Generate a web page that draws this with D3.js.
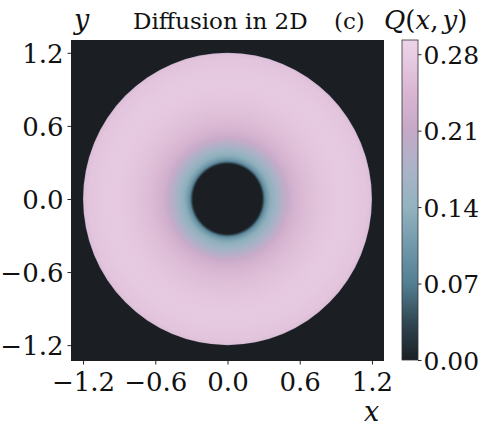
<!DOCTYPE html>
<html>
<head>
<meta charset="utf-8">
<script src="https://cdn.jsdelivr.net/npm/d3@7"></script>
<style>
  body { margin: 0; background: #fff; }
  svg text { font-family: "DejaVu Serif", "Liberation Serif", serif; fill: #111; }
  .math { font-style: italic; }
</style>
</head>
<body>
<div id="vis"></div>
<script>
// Radial profile of Q (r -> Q)
let radii   = [0.00, 0.285, 0.295, 0.31, 0.33, 0.36, 0.40, 0.45, 0.50, 0.55, 0.62, 0.72, 0.85, 0.95, 1.05, 1.15, 1.19, 1.20];
let qValues = [0.00, 0.00,  0.03,  0.08, 0.11, 0.135, 0.155, 0.185, 0.215, 0.235, 0.25, 0.262, 0.272, 0.276, 0.274, 0.268, 0.26, 0.20];

// Tick labels
let xTicks = [-1.2, -0.6, 0.0, 0.6, 1.2];
let yTicks = [-1.2, -0.6, 0.0, 0.6, 1.2];
let cTicks = [0.00, 0.07, 0.14, 0.21, 0.28];

// Colormap stops (value -> colour)
let cmapVals = [0, 0.035, 0.07, 0.105, 0.14, 0.175, 0.21, 0.245, 0.28, 0.293];
let cmapCols = ['#1b1f23', '#304853', '#537f92', '#7199aa', '#93b3bf', '#abb3c9', '#c5a9c7', '#d9b6d2', '#e8cde3', '#ecd4e8'];

let outerR = 1.2;

let svg = d3.select('#vis').append('svg').attr('width', 488).attr('height', 427);

let pLeft = 71, pRight = 384, pTop = 40, pBottom = 361;

let xScale = d3.scaleLinear().domain([-1.3, 1.3]).range([pLeft, pRight]);
let yScale = d3.scaleLinear().domain([-1.33, 1.305]).range([pBottom, pTop]);
let color = d3.scaleLinear().domain(cmapVals).range(cmapCols).clamp(true);

let defs = svg.append('defs');

// Radial gradient built from the profile
let rg = defs.append('radialGradient').attr('id', 'ring')
  .attr('cx', '50%').attr('cy', '50%').attr('r', '50%');
rg.selectAll('stop').data(radii).enter().append('stop')
  .attr('offset', d => d / outerR)
  .attr('stop-color', (d, i) => color(qValues[i]));

// Plot background (Q = 0 outside the domain)
svg.append('rect')
  .attr('x', pLeft).attr('y', pTop)
  .attr('width', pRight - pLeft).attr('height', pBottom - pTop)
  .attr('fill', color(0));

svg.append('ellipse')
  .attr('cx', xScale(0)).attr('cy', yScale(0))
  .attr('rx', xScale(outerR) - xScale(0))
  .attr('ry', yScale(0) - yScale(outerR))
  .attr('fill', 'url(#ring)');

// Axes
let fmt1 = d => d3.format('.1f')(d).replace('-', '\u2212');
let xAxis = d3.axisBottom(xScale).tickValues(xTicks).tickSize(3.5).tickPadding(4).tickFormat(fmt1);
let yAxis = d3.axisLeft(yScale).tickValues(yTicks).tickSize(3.5).tickPadding(4).tickFormat(fmt1);

let gx = svg.append('g').attr('transform', `translate(0,${pBottom})`).call(xAxis);
let gy = svg.append('g').attr('transform', `translate(${pLeft},0)`).call(yAxis);
[gx, gy].forEach(g => {
  g.select('.domain').remove();
  g.selectAll('text').style('font-size', '26px').attr('fill', '#111');
  g.selectAll('line').attr('stroke', '#222');
});
gx.selectAll('text').attr('dy', '0.88em');
gy.selectAll('text').attr('dy', '0.36em');

// Colorbar
let cbX = 402, cbW = 16;
let cScale = d3.scaleLinear().domain([0, 0.293]).range([pBottom - 1, pTop]);
let lg = defs.append('linearGradient').attr('id', 'cbar')
  .attr('x1', 0).attr('y1', 1).attr('x2', 0).attr('y2', 0);
lg.selectAll('stop').data(cmapVals).enter().append('stop')
  .attr('offset', d => d / 0.293)
  .attr('stop-color', (d, i) => cmapCols[i]);

svg.append('rect')
  .attr('x', cbX).attr('y', pTop)
  .attr('width', cbW).attr('height', pBottom - 1 - pTop)
  .attr('fill', 'url(#cbar)')
  .attr('stroke', '#333').attr('stroke-width', 0.8);

let cAxis = d3.axisRight(cScale).tickValues(cTicks).tickSize(3.5).tickPadding(2)
  .tickFormat(d3.format('.2f'));
let gc = svg.append('g').attr('transform', `translate(${cbX + cbW},0)`).call(cAxis);
gc.select('.domain').remove();
gc.selectAll('text').style('font-size', '25px').attr('dy', '0.36em').attr('fill', '#111');
gc.selectAll('line').attr('stroke', '#222');

// Titles and labels
svg.append('text').attr('class', 'math').attr('x', 74).attr('y', 29)
  .style('font-size', '27px').text('y');
svg.append('text').attr('x', 133).attr('y', 29)
  .style('font-size', '23px').text('Diffusion in 2D');
svg.append('text').attr('x', 334).attr('y', 29)
  .style('font-size', '23px').text('(c)');
let qt = svg.append('text').attr('x', 384).attr('y', 29).style('font-size', '26px');
qt.append('tspan').attr('class', 'math').text('Q');
qt.append('tspan').text('(');
qt.append('tspan').attr('class', 'math').text('x');
qt.append('tspan').text(',');
qt.append('tspan').attr('class', 'math').attr('dx', 4).text('y');
qt.append('tspan').text(')');
svg.append('text').attr('class', 'math').attr('x', 364).attr('y', 421)
  .style('font-size', '27px').text('x');
</script>
</body>
</html>
